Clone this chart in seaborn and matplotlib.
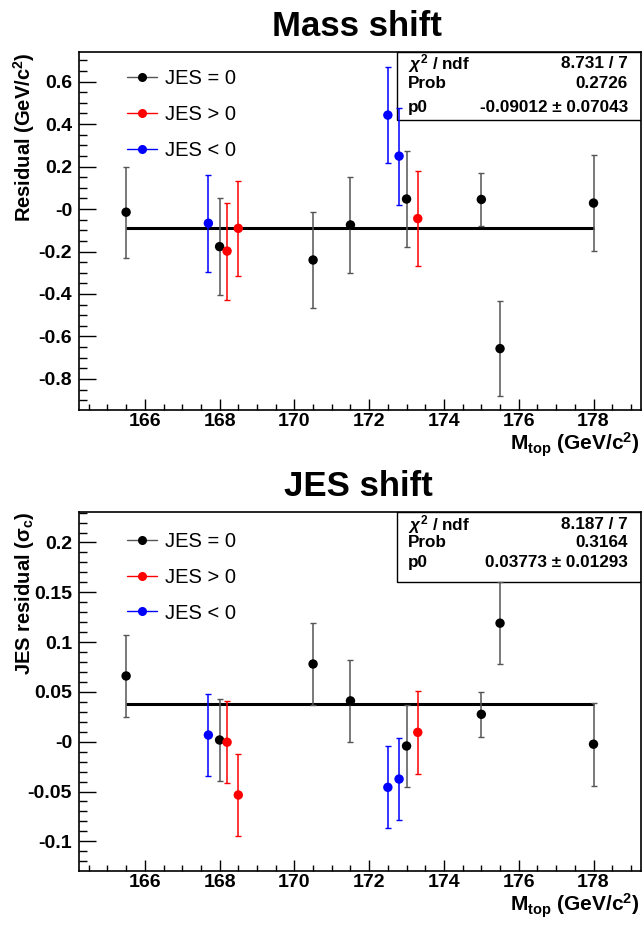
import numpy as np
import pandas as pd
import matplotlib
matplotlib.use("Agg")
import matplotlib.pyplot as plt
from matplotlib.lines import Line2D
from matplotlib.patches import Rectangle
from matplotlib.ticker import MultipleLocator
import seaborn as sns

# ---------------- data ----------------
groups = ["JES = 0", "JES > 0", "JES < 0"]
marker_colors = ["#000000", "#ff0000", "#0000ff"]
bar_colors = ["#555555", "#ff0000", "#0000ff"]

mtop_jes0 = [165.5, 168.0, 170.5, 171.5, 173.0, 175.0, 175.5, 178.0]
mtop_jespos = [168.2, 168.5, 173.3]
mtop_jesneg = [167.7, 172.5, 172.8]

mass_res_jes0 = [-0.015, -0.177, -0.240, -0.075, 0.047, 0.045, -0.657, 0.028]
mass_err_jes0 = [0.215, 0.228, 0.227, 0.227, 0.227, 0.125, 0.225, 0.226]
mass_res_jespos = [-0.198, -0.091, -0.045]
mass_err_jespos = [0.228, 0.225, 0.225]
mass_res_jesneg = [-0.067, 0.442, 0.249]
mass_err_jesneg = [0.228, 0.227, 0.228]

jes_res_jes0 = [0.066, 0.0017, 0.078, 0.041, -0.0043, 0.0275, 0.119, -0.0025]
jes_err_jes0 = [0.0415, 0.041, 0.041, 0.0415, 0.041, 0.0225, 0.041, 0.0415]
jes_res_jespos = [-0.0005, -0.0535, 0.0094]
jes_err_jespos = [0.041, 0.0415, 0.0415]
jes_res_jesneg = [0.0067, -0.0458, -0.0375]
jes_err_jesneg = [0.0415, 0.0413, 0.041]

mass_fit_p0 = -0.09012
jes_fit_p0 = 0.03773

mass_stats = [(r"$\mathit{\chi}^{2}$ / ndf", "8.731 / 7"), ("Prob", "0.2726"),
              ("p0", "-0.09012 ± 0.07043")]
jes_stats = [(r"$\mathit{\chi}^{2}$ / ndf", "8.187 / 7"), ("Prob", "0.3164"),
             ("p0", "0.03773 ± 0.01293")]

x_ticks = [166, 168, 170, 172, 174, 176, 178]
x_ticklabels = ["166", "168", "170", "172", "174", "176", "178"]
mass_yticks = [0.6, 0.4, 0.2, 0.0, -0.2, -0.4, -0.6, -0.8]
mass_yticklabels = ["0.6", "0.4", "0.2", "-0", "-0.2", "-0.4", "-0.6", "-0.8"]
jes_yticks = [0.2, 0.15, 0.1, 0.05, 0.0, -0.05, -0.1]
jes_yticklabels = ["0.2", "0.15", "0.1", "0.05", "-0", "-0.05", "-0.1"]

mass_title = "Mass shift"
jes_title = "JES shift"
mass_ylabel = r"Residual (GeV/c$^{2}$)"
jes_ylabel = r"JES residual ($\sigma_{c}$)"
x_label = r"M$_{top}$ (GeV/c$^{2}$)"

# ---------------- style ----------------
sns.set_theme(style="ticks")
plt.rcParams["font.family"] = ["Liberation Sans", "DejaVu Sans"]
plt.rcParams["mathtext.fontset"] = "custom"
plt.rcParams["mathtext.rm"] = "Liberation Sans:bold"
plt.rcParams["mathtext.bf"] = "Liberation Sans:bold"
plt.rcParams["mathtext.it"] = "Liberation Sans:italic:bold"
plt.rcParams["mathtext.sf"] = "Liberation Sans:bold"
plt.rcParams["mathtext.default"] = "rm"
plt.rcParams["axes.unicode_minus"] = False
for key in ["text.color", "axes.labelcolor", "xtick.color", "ytick.color",
            "axes.edgecolor"]:
    plt.rcParams[key] = "black"

W, H = 643, 925
fig = plt.figure(figsize=(W / 100, H / 100), dpi=100)


def ax_rect(left, top, right, bottom):
    return [left / W, 1 - bottom / H, (right - left) / W, (bottom - top) / H]


ax_top = fig.add_axes(ax_rect(79, 52, 641, 410))
ax_bot = fig.add_axes(ax_rect(79, 512, 641, 871))


def make_frame(xs, ys, es):
    rows = []
    for g, x, y, e in zip(groups, xs, ys, es):
        for xi, yi, ei in zip(x, y, e):
            rows.append({"mtop": xi, "res": yi, "err": ei, "group": g})
    return pd.DataFrame(rows)


def draw_panel(ax, df, p0, ylim, yticks, yticklabels, ymin_step, ylabel,
               stats, stat_rows_y, box_bottom, stat_fs, legend_y):
    xlo, xhi = 164.24, 179.27
    # statistics box (under the data)
    ax.add_patch(Rectangle((0.566, box_bottom), 1.0 - 0.566, 1.0 - box_bottom,
                           transform=ax.transAxes, facecolor="white",
                           edgecolor="black", lw=1.0, zorder=1))
    for (lab, val), yy in zip(stats, stat_rows_y):
        ax.text(0.585, yy, lab, transform=ax.transAxes, ha="left", va="center",
                fontsize=stat_fs, fontweight="bold", zorder=2)
        ax.text(0.977, yy, val, transform=ax.transAxes, ha="right", va="center",
                fontsize=stat_fs, fontweight="bold", zorder=2)
    # fit line
    ax.hlines(p0, df["mtop"].min(), df["mtop"].max(), color="black", lw=2.2,
              zorder=3)
    # error bars
    for g, bc in zip(groups, bar_colors):
        sub = df[df["group"] == g]
        ax.errorbar(sub["mtop"], sub["res"], yerr=sub["err"], fmt="none",
                    ecolor=bc, elinewidth=1.1, capsize=2, capthick=1.0,
                    zorder=4)
    sns.scatterplot(data=df, x="mtop", y="res", hue="group", hue_order=groups,
                    palette=marker_colors, s=46, linewidth=0, legend=False,
                    ax=ax, zorder=5)
    ax.set_xlim(xlo, xhi)
    ax.set_ylim(*ylim)
    ax.set_xticks(x_ticks, x_ticklabels)
    ax.set_yticks(yticks, yticklabels)
    ax.xaxis.set_minor_locator(MultipleLocator(0.5))
    ax.yaxis.set_minor_locator(MultipleLocator(ymin_step))
    ax.tick_params(axis="both", which="both", direction="in", color="black",
                   top=False, right=False)
    ax.tick_params(axis="y", which="major", length=12, width=1.0, pad=5,
                   labelsize=14)
    ax.tick_params(axis="y", which="minor", length=6, width=1.0)
    ax.tick_params(axis="x", which="major", length=8, width=1.0, pad=2,
                   labelsize=14)
    ax.tick_params(axis="x", which="minor", length=4, width=1.0)
    for lab in ax.get_xticklabels() + ax.get_yticklabels():
        lab.set_fontweight("bold")
    for sp in ax.spines.values():
        sp.set_visible(True)
        sp.set_color("black")
        sp.set_linewidth(1.2)
    ax.set_xlabel("")
    ax.set_ylabel("")
    ax.text(-0.097, 1.0, ylabel, transform=ax.transAxes, rotation=90,
            ha="center", va="top", fontsize=14.5, fontweight="bold")
    ax.text(0.998, -0.112, x_label, transform=ax.transAxes, ha="right",
            va="baseline", fontsize=15, fontweight="bold")
    handles = [Line2D([0], [0], color=bc, marker="o", markersize=6.5,
                      markerfacecolor=mc, markeredgewidth=0, lw=1.0)
               for bc, mc in zip(bar_colors, marker_colors)]
    ax.legend(handles, groups, loc="upper left",
              bbox_to_anchor=(0.085, legend_y), frameon=False, fontsize=14.5,
              handlelength=1.5, handletextpad=0.4, labelspacing=0.83,
              borderpad=0, borderaxespad=0)


df_mass = make_frame([mtop_jes0, mtop_jespos, mtop_jesneg],
                     [mass_res_jes0, mass_res_jespos, mass_res_jesneg],
                     [mass_err_jes0, mass_err_jespos, mass_err_jesneg])
df_jes = make_frame([mtop_jes0, mtop_jespos, mtop_jesneg],
                    [jes_res_jes0, jes_res_jespos, jes_res_jesneg],
                    [jes_err_jes0, jes_err_jespos, jes_err_jesneg])

draw_panel(ax_top, df_mass, mass_fit_p0, (-0.946, 0.739), mass_yticks,
           mass_yticklabels, 0.05, mass_ylabel, mass_stats,
           [0.969, 0.911, 0.846], 0.810, 12.3, 0.952)
draw_panel(ax_bot, df_jes, jes_fit_p0, (-0.1298, 0.2306), jes_yticks,
           jes_yticklabels, 0.01, jes_ylabel, jes_stats,
           [0.964, 0.916, 0.860], 0.805, 12.3, 0.944)

fig.text(357 / W, 1 - 26 / H, mass_title, ha="center", va="center",
         fontsize=25, fontweight="bold")
fig.text(358 / W, 1 - 487 / H, jes_title, ha="center", va="center",
         fontsize=25, fontweight="bold")

fig.savefig("out.png", dpi=100, facecolor="white")
